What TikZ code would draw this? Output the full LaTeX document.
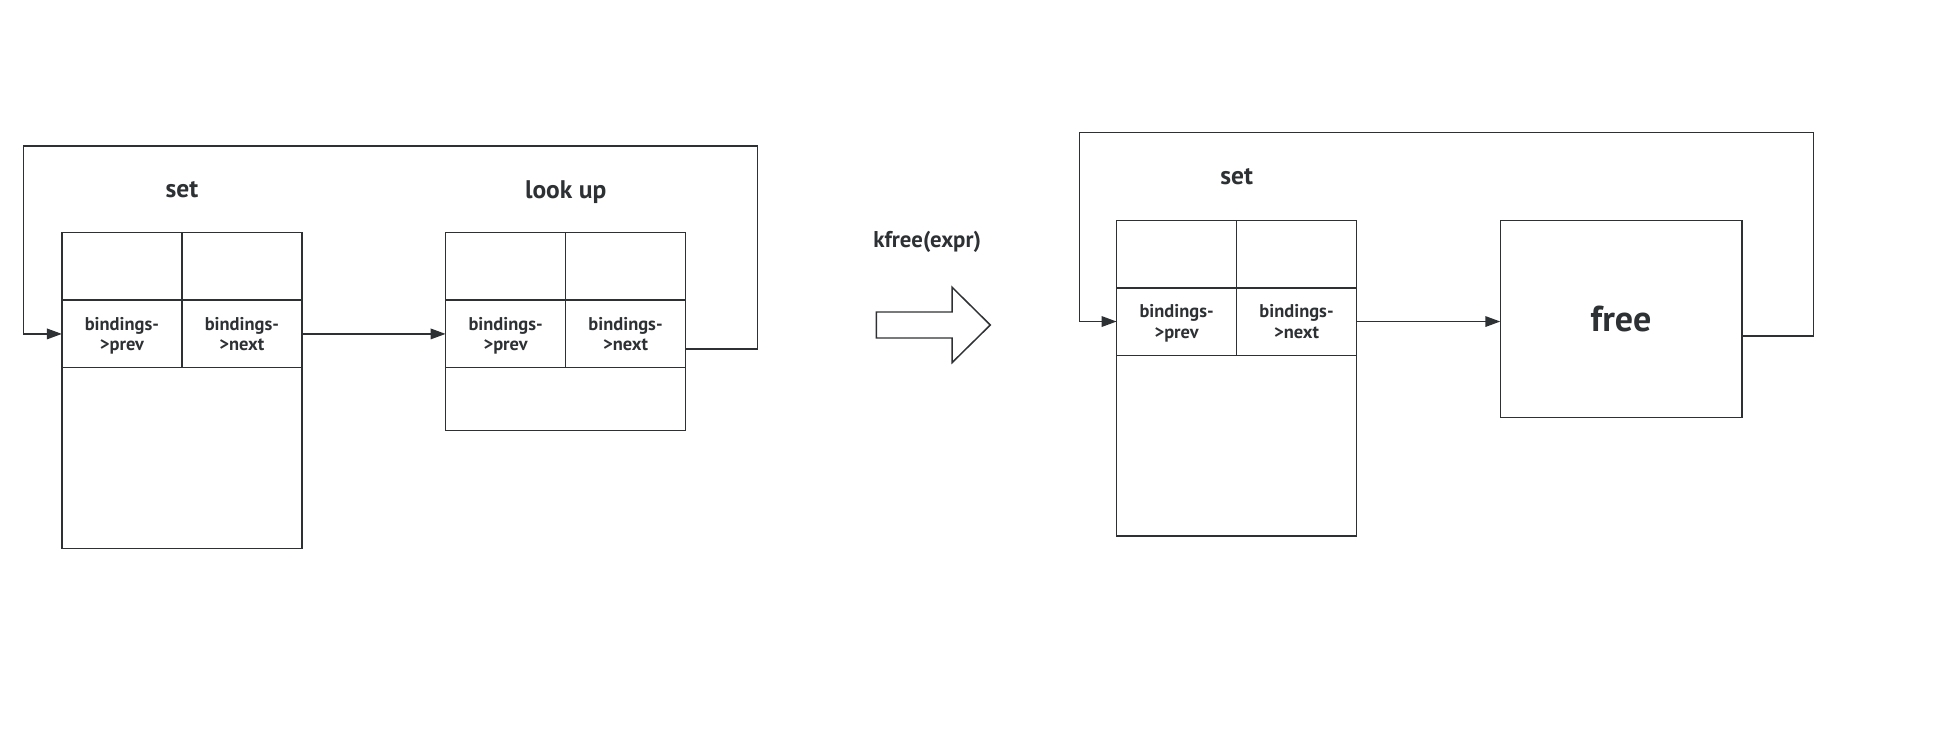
\documentclass[tikz,border=0pt]{standalone}
\usepackage{fontspec}
\setmainfont{PT Sans}
\usepackage{tikz}
\usetikzlibrary{positioning,arrows.meta}
\definecolor{ink}{HTML}{2E3134}
\tikzset{
  cell/.style={draw=ink,minimum width=2.4cm,minimum height=1.35cm,inner sep=0pt,outer sep=0pt,align=center,text=ink,text depth=0pt,font=\bfseries\fontsize{10.5}{11.5}\selectfont},
  tail/.style={cell,minimum width=4.8cm},
  title/.style={text=ink,font=\bfseries\fontsize{14.5}{17}\selectfont},
  arr/.style={-{Triangle[length=8.5pt,width=6pt]},draw=ink,line width=0.85pt},
}

\begin{document}
\begin{tikzpicture}[x=0.02cm,y=-0.02cm,line width=0.85pt]
\useasboundingbox (0,0) rectangle (1941,729);
% before: set
\node[cell,anchor=north west] (s1a) at (61.9,232.7) {};
\node[cell,right=0pt of s1a] (s1b) {};
\node[cell,below=0pt of s1a] (s1prev) {bindings-\\>prev};
\node[cell,below=0pt of s1b] (s1next) {bindings-\\>next};
\node[tail,minimum height=3.62cm,anchor=north west] (s1rest) at (s1prev.south west) {};
\node[title] (t1) at (182,189.4) {set};
% before: look up
\node[cell,anchor=north west] (l1a) at (445.6,232.7) {};
\node[cell,right=0pt of l1a] (l1b) {};
\node[cell,below=0pt of l1a] (l1prev) {bindings-\\>prev};
\node[cell,below=0pt of l1b] (l1next) {bindings-\\>next};
\node[tail,minimum height=1.26cm,anchor=north west] (l1rest) at (l1prev.south west) {};
\node[title] (t2) at (565.7,191.8) {look up};
\coordinate (lr) at (757.6,146.1);
\coordinate (ll) at (23.5,146.1);
\draw[arr] (s1next.east) -- (l1prev.west);
\draw[arr] ([yshift=-0.3cm]l1next.east) -| (lr) -| (ll) |- (s1prev.west);
% kfree
\node[title,font=\bfseries\fontsize{13}{15}\selectfont] (kf) at (927.2,241.5) {kfree(expr)};
\draw[draw=ink] (876.4,312) -- (952,312) -- (952,287.2) -- (990.3,325) -- (952,362.7) -- (952,338) -- (876.4,338) -- cycle;
% after
\node[cell,anchor=north west] (s2a) at (1116.6,220.3) {};
\node[cell,right=0pt of s2a] (s2b) {};
\node[cell,below=0pt of s2a] (s2prev) {bindings-\\>prev};
\node[cell,below=0pt of s2b] (s2next) {bindings-\\>next};
\node[tail,minimum height=3.62cm,anchor=north west] (s2rest) at (s2prev.south west) {};
\node[title] (t3) at (1236.7,177) {set};
\node[cell,minimum width=4.83cm,minimum height=3.94cm,anchor=north west,font=\bfseries\fontsize{20.5}{24}\selectfont] (free) at (1500.3,220.3) {free};
\coordinate (rr) at (1813.5,132.5);
\coordinate (rl) at (1079.5,132.5);
\draw[arr] (s2next.east) -- (free.west |- s2next.east);
\draw[arr] ([yshift=-0.34cm]free.east) -| (rr) -| (rl) |- (s2prev.west);
\end{tikzpicture}
\end{document}
